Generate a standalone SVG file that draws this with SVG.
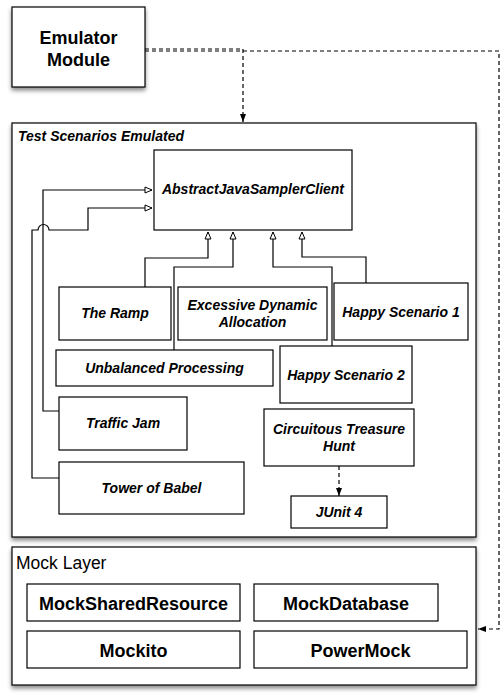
<svg xmlns="http://www.w3.org/2000/svg" width="503" height="700" viewBox="0 0 503 700">
<style>
.box{fill:#fff;stroke:#000;stroke-width:1.2}
.shadow{filter:url(#ds)}
.lbl{font-family:"Liberation Sans",Arial,sans-serif;font-weight:bold;font-style:italic;font-size:14px;text-anchor:middle;fill:#000}
.big{font-family:"Liberation Sans",Arial,sans-serif;font-weight:bold;font-size:18px;text-anchor:middle;fill:#000}
.conn{fill:none;stroke:#000;stroke-width:1.2}
.dash{fill:none;stroke:#000;stroke-width:1.2;stroke-dasharray:4 3}
</style>
<defs>
<filter id="ds" x="-10%" y="-10%" width="120%" height="130%">
<feDropShadow dx="0" dy="3" stdDeviation="2" flood-color="#000" flood-opacity="0.45"/>
</filter>
<marker id="hollow" markerUnits="userSpaceOnUse" viewBox="0 0 9 8" refX="8" refY="4" markerWidth="9" markerHeight="8" orient="auto">
<path d="M1,1 L8,4 L1,7 z" fill="#fff" stroke="#000" stroke-width="1"/>
</marker>
<marker id="filled" markerUnits="userSpaceOnUse" viewBox="0 0 8 8" refX="8" refY="4" markerWidth="8" markerHeight="8" orient="auto">
<path d="M0,1 L8,4 L0,7 z" fill="#000"/>
</marker>
</defs>

<g id="emulator">
<rect class="box shadow" x="12" y="7" width="133" height="80"/>
<text class="big" x="78.5" y="44">Emulator</text>
<text class="big" x="78.5" y="66">Module</text>
</g>

<g id="test-scenarios">
<rect class="box shadow" x="12" y="123" width="464" height="414"/>
<text class="lbl" x="18" y="141" style="text-anchor:start">Test Scenarios Emulated</text>
</g>

<g id="mock-layer">
<rect class="box shadow" x="12" y="547" width="464" height="138"/>
<text x="16" y="569" style="font-family:'Liberation Sans',Arial,sans-serif;font-size:17.5px;fill:#000">Mock Layer</text>
</g>

<g id="abstract"><rect class="box" x="154" y="150" width="198" height="80"/><text class="lbl" x="253" y="194">AbstractJavaSamplerClient</text></g>
<g id="the-ramp"><rect class="box" x="59" y="287" width="112" height="53"/><text class="lbl" x="115" y="318">The Ramp</text></g>
<g id="excessive"><rect class="box" x="178" y="287" width="149" height="53"/><text class="lbl" x="252.5" y="310">Excessive Dynamic</text><text class="lbl" x="252.5" y="327">Allocation</text></g>
<g id="happy1"><rect class="box" x="334" y="283" width="134" height="57"/><text class="lbl" x="401" y="317">Happy Scenario 1</text></g>
<g id="unbalanced"><rect class="box" x="56" y="350" width="217" height="36"/><text class="lbl" x="164.5" y="373">Unbalanced Processing</text></g>
<g id="happy2"><rect class="box" x="280" y="346" width="132" height="57"/><text class="lbl" x="346" y="380">Happy Scenario 2</text></g>
<g id="traffic-jam"><rect class="box" x="59" y="397" width="128" height="53"/><text class="lbl" x="123" y="428">Traffic Jam</text></g>
<g id="circuitous"><rect class="box" x="264" y="409" width="150" height="57"/><text class="lbl" x="339" y="434">Circuitous Treasure</text><text class="lbl" x="339" y="451">Hunt</text></g>
<g id="tower-of-babel"><rect class="box" x="59" y="462" width="185" height="52"/><text class="lbl" x="151.5" y="493">Tower of Babel</text></g>
<g id="junit4"><rect class="box" x="291" y="496" width="96" height="32"/><text class="lbl" x="339" y="517">JUnit 4</text></g>

<g id="mock-shared"><rect class="box" x="27" y="584" width="213" height="37"/><text class="big" x="133.5" y="610">MockSharedResource</text></g>
<g id="mock-database"><rect class="box" x="254" y="584" width="184" height="37"/><text class="big" x="346" y="610">MockDatabase</text></g>
<g id="mockito"><rect class="box" x="27" y="631" width="213" height="37"/><text class="big" x="133.5" y="657">Mockito</text></g>
<g id="powermock"><rect class="box" x="254" y="631" width="213" height="37"/><text class="big" x="360.5" y="657">PowerMock</text></g>

<g id="connectors">
<path class="dash" d="M145,49 H243 V122" marker-end="url(#filled)"/>
<path class="dash" d="M145,51 H499 V629 H478" marker-end="url(#filled)"/>
<path class="dash" d="M339,466 V496" marker-end="url(#filled)"/>
<path class="conn" d="M59,411 H43 V190 H152" marker-end="url(#hollow)"/>
<path class="conn" d="M59,478 H32 V230 H38 A5.5,5.5 0 0 1 49,230 H88 V208 H152" marker-end="url(#hollow)"/>
<path class="conn" d="M145,287 V258 H208 V232" marker-end="url(#hollow)"/>
<path class="conn" d="M174,350 V267 H233 V232" marker-end="url(#hollow)"/>
<path class="conn" d="M332,346 V267 H273 V232" marker-end="url(#hollow)"/>
<path class="conn" d="M366,283 V257 H302 V232" marker-end="url(#hollow)"/>
</g>
</svg>
